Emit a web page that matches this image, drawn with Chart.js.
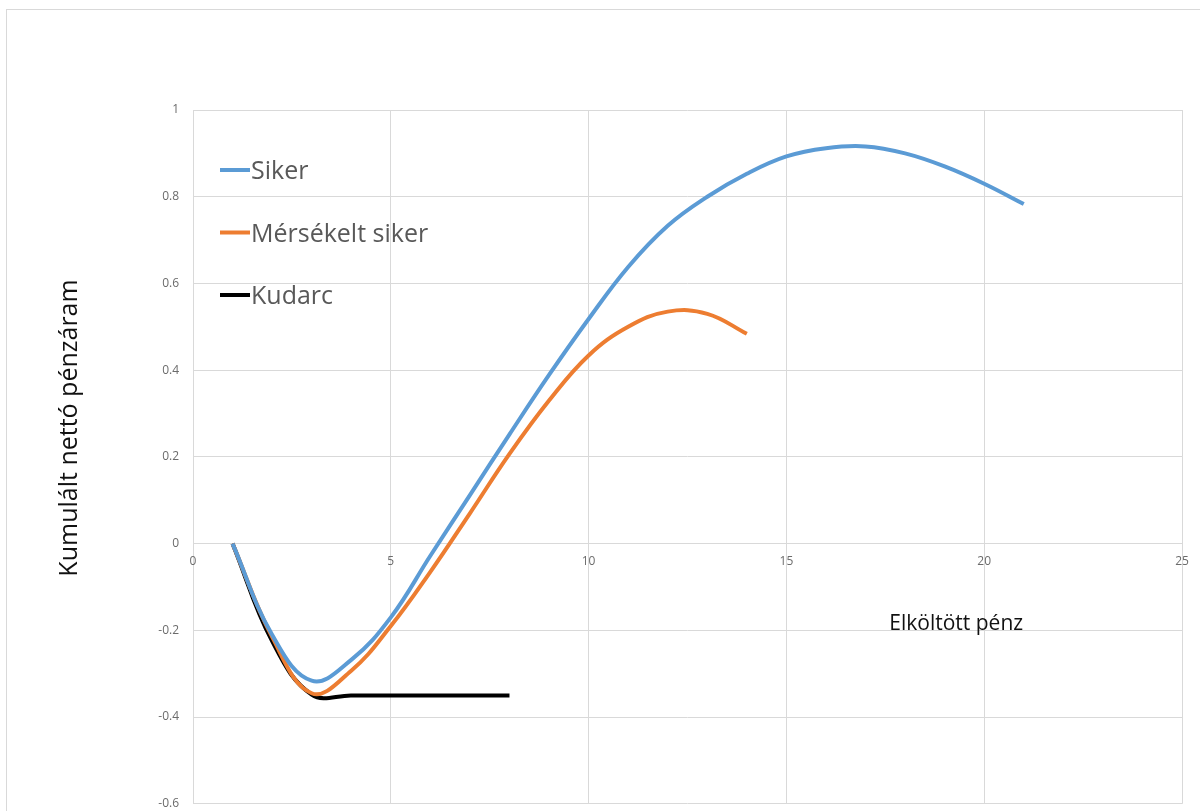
<!DOCTYPE html>
<html>
<head>
<meta charset="utf-8">
<script src="https://cdn.jsdelivr.net/npm/chart.js@4.4.1/dist/chart.umd.min.js"></script>
<style>
  html, body { margin: 0; padding: 0; background: #fff; overflow: hidden; }
  #wrap { position: relative; width: 1200px; height: 811px; overflow: hidden; }
  #frame { position: absolute; left: 6px; top: 9px; width: 1300px; height: 900px; border: 1px solid #d9d9d9; pointer-events: none; }
  #cashChart { position: absolute; left: 0; top: 0; display: block; }
</style>
</head>
<body>
<div id="wrap">
  <div id="frame"></div>
  <canvas id="cashChart" width="1200" height="825"></canvas>
</div>
<script>
// DATA
const sikerX = [1, 2, 3, 4, 5, 6, 7, 8, 9, 10, 11, 12, 13, 14, 15, 16, 17, 18, 19, 20, 21];
const sikerY = [0, -0.21, -0.316, -0.268, -0.17, -0.028, 0.112, 0.252, 0.389, 0.518, 0.638, 0.733, 0.8, 0.853, 0.893, 0.912, 0.916, 0.9, 0.87, 0.83, 0.783];

const merseX = [1, 2, 3, 4, 5, 6, 7, 8, 9, 10, 11, 12, 13, 14];
const merseY = [0, -0.215, -0.345, -0.293, -0.19, -0.065, 0.07, 0.207, 0.33, 0.434, 0.5, 0.535, 0.53, 0.484];

const kudarcX = [1, 2, 3, 4, 5, 6, 7, 8];
const kudarcY = [0, -0.225, -0.348, -0.35, -0.35, -0.35, -0.35, -0.35];

const seriesNames = ["Siker", "Mérsékelt siker", "Kudarc"];
const seriesColors = ["#5b9bd5", "#ed7d31", "#000000"];

const xTitle = "Elköltött pénz";
const yTitle = "Kumulált nettó pénzáram";

const GRID = "#d9d9d9";
const TICK = "#6b6b6b";

function toPoints(xs, ys) {
    return xs.map((x, i) => ({ x, y: ys[i] }));
}

// LEGEND + AXIS TITLES (drawn inside the plot like the original)
const overlayText = {
    id: "overlayText",
    afterDraw(chart) {
        const { ctx, chartArea, scales } = chart;
        ctx.save();

        // legend
        chart.data.datasets.forEach((ds, i) => {
            const y = chartArea.top + 60 + i * 62.5;
            const x0 = chartArea.left + 27;
            ctx.strokeStyle = ds.borderColor;
            ctx.lineWidth = 4;
            ctx.beginPath();
            ctx.moveTo(x0, y);
            ctx.lineTo(x0 + 30, y);
            ctx.stroke();
            ctx.fillStyle = "#595959";
            ctx.font = '25px "Open Sans"';
            ctx.textAlign = "left";
            ctx.textBaseline = "alphabetic";
            ctx.fillText(ds.label, x0 + 31, y + 9);
        });

        // x title, sitting on the -0.2 gridline
        ctx.fillStyle = "#111";
        ctx.font = '21px "Open Sans"';
        ctx.textAlign = "left";
        ctx.textBaseline = "alphabetic";
        ctx.fillText(xTitle, scales.x.getPixelForValue(17.6), scales.y.getPixelForValue(-0.2));

        // y title
        ctx.translate(77, 428);
        ctx.rotate(-Math.PI / 2);
        ctx.font = '25px "Open Sans"';
        ctx.textAlign = "center";
        ctx.fillText(yTitle, 0, 0);

        ctx.restore();
    }
};

const lineStyle = {
    borderWidth: 4,
    pointRadius: 0,
    tension: 0.4,
    fill: false
};

new Chart(document.getElementById("cashChart"), {
    type: "line",
    data: {
        datasets: [
            { label: seriesNames[0], data: toPoints(sikerX, sikerY), borderColor: seriesColors[0], backgroundColor: seriesColors[0], ...lineStyle },
            { label: seriesNames[1], data: toPoints(merseX, merseY), borderColor: seriesColors[1], backgroundColor: seriesColors[1], ...lineStyle },
            { label: seriesNames[2], data: toPoints(kudarcX, kudarcY), borderColor: seriesColors[2], backgroundColor: seriesColors[2], ...lineStyle }
        ]
    },
    options: {
        responsive: false,
        animation: false,
        layout: {
            autoPadding: false,
            padding: { top: 110, right: 18, bottom: 9, left: 0 }
        },
        plugins: {
            legend: { display: false },
            tooltip: { enabled: false }
        },
        scales: {
            x: {
                type: "linear",
                position: { y: 0 },
                min: 0,
                max: 25,
                afterFit: scale => { scale.height = 0; },
                ticks: {
                    stepSize: 5,
                    color: TICK,
                    padding: 11,
                    font: { family: "Open Sans", size: 12 }
                },
                grid: { color: GRID, lineWidth: 1, drawTicks: false },
                border: { color: GRID }
            },
            y: {
                min: -0.6,
                max: 1,
                afterFit: scale => { scale.width = 193; },
                ticks: {
                    stepSize: 0.2,
                    color: TICK,
                    padding: 14,
                    font: { family: "Open Sans", size: 12 },
                    callback: v => String(Number(v.toFixed(2)))
                },
                grid: { color: GRID, lineWidth: 1, drawTicks: false },
                border: { display: false }
            }
        }
    },
    plugins: [overlayText]
});
</script>
</body>
</html>
